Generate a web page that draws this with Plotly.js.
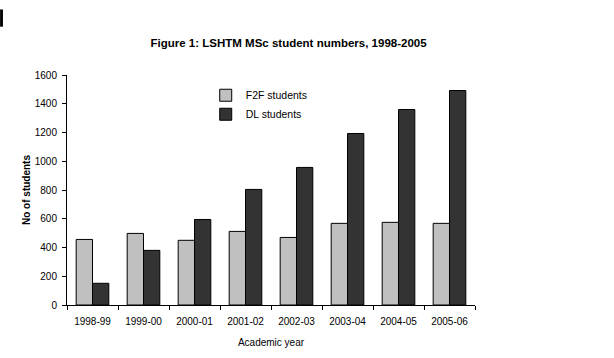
<!DOCTYPE html>
<html><head><meta charset="utf-8">
<script src="https://cdn.plot.ly/plotly-3.0.1.min.js"></script>
<style>body{margin:0;background:#fff}#c{width:614px;height:358px}</style>
</head><body><div id="c"></div>
<script>
const years = ["1998-99","1999-00","2000-01","2001-02","2002-03","2003-04","2004-05","2005-06"];
const f2f = [456, 498, 450, 512, 470, 568, 575, 568];
const dl = [151, 380, 595, 804, 957, 1193, 1360, 1492];
const yTicks = [0,200,400,600,800,1000,1200,1400,1600];

const traces = [
  {type:"bar", name:"F2F students", x:years, y:f2f,
   marker:{color:"#c0c0c0", line:{color:"#000", width:1}}},
  {type:"bar", name:"DL students", x:years, y:dl,
   marker:{color:"#333333", line:{color:"#000", width:1}}}
];
const layout = {
  width:614, height:358,
  margin:{l:67, r:139, t:75, b:53},
  paper_bgcolor:"#fff", plot_bgcolor:"#fff",
  font:{family:"Liberation Sans, Arial, sans-serif", size:10, color:"#000"},
  title:{text:"<b>Figure 1: LSHTM MSc student numbers, 1998-2005</b>", font:{size:11.5}, x:0.47, xanchor:"center", y:0.88, yanchor:"middle"},
  barmode:"group", bargap:0.36, bargroupgap:0,
  showlegend:true,
  legend:{x:0.34, y:0.975, xanchor:"left", yanchor:"top", bgcolor:"rgba(0,0,0,0)", font:{size:10.5}, tracegroupgap:0, itemwidth:30},
  xaxis:{type:"category", showline:true, linecolor:"#000", linewidth:1, ticks:"outside", ticklen:4, tickcolor:"#000", tickson:"boundaries", showgrid:false, zeroline:false,
    ticklabelstandoff:7,
    title:{text:"Academic year", font:{size:10}, standoff:12}},
  yaxis:{range:[0,1600], tickvals:yTicks, showline:true, linecolor:"#000", linewidth:1, ticks:"outside", ticklen:4, tickcolor:"#000", showgrid:false, zeroline:false,
    ticklabelstandoff:3,
    title:{text:"<b>No of students</b>", font:{size:10}, standoff:2}},
  shapes:[{type:"rect", xref:"paper", yref:"paper", x0:-0.164, x1:-0.157, y0:1.21, y1:1.285, fillcolor:"#000", line:{width:0}}]
};
Plotly.newPlot("c", traces, layout, {displayModeBar:false, staticPlot:true});
</script>
</body></html>
